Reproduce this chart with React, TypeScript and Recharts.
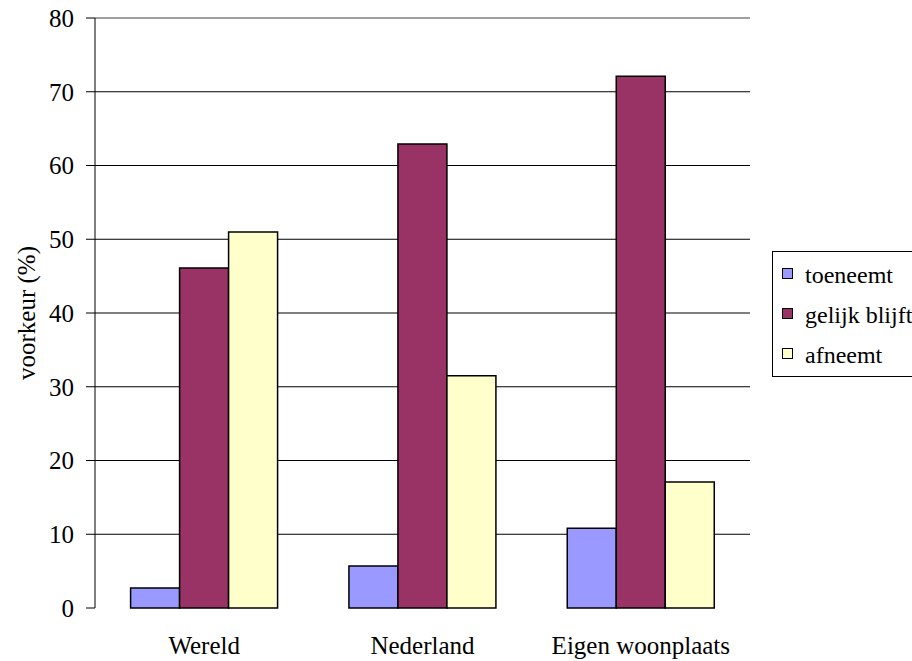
import React from "react";
import {
  BarChart,
  Bar,
  XAxis,
  YAxis,
  CartesianGrid,
  Legend,
  ReferenceLine,
} from "recharts";

const categories = ["Wereld", "Nederland", "Eigen woonplaats"];
const seriesNames = ["toeneemt", "gelijk blijft", "afneemt"];
const toeneemt = [2.7, 5.7, 10.8];
const gelijkBlijft = [46.1, 62.9, 72.1];
const afneemt = [51.0, 31.5, 17.1];
const yTicks = [0, 10, 20, 30, 40, 50, 60, 70, 80];
const edgeTicks = [0, 1, 2, 3];

const data = categories.map((name, i) => ({
  name,
  toeneemt: toeneemt[i],
  gelijk: gelijkBlijft[i],
  afneemt: afneemt[i],
}));

const FONT = "Liberation Serif, DejaVu Serif, Noto Serif, Times New Roman, serif";

const YLabel = (props: any) => {
  const vb = props.viewBox || {};
  const x = vb.x + 26;
  const y = vb.y + vb.height / 2;
  return (
    <text
      x={x}
      y={y}
      transform={`rotate(-90, ${x}, ${y})`}
      textAnchor="middle"
      dominantBaseline="central"
      style={{ fontFamily: FONT }}
      fontSize={25}
      fill="#000"
    >
      voorkeur (%)
    </text>
  );
};

const LegendContent = (props: any) => {
  const payload = [...(props.payload || [])].sort(
    (a: any, b: any) => seriesNames.indexOf(a.value) - seriesNames.indexOf(b.value)
  );
  return (
    <div
      style={{
        position: "absolute",
        left: 22,
        top: 251,
        width: 150,
        height: 126,
        border: "1px solid #000",
        boxSizing: "border-box",
        paddingTop: 3,
        background: "#fff",
      }}
    >
      {payload.map((p: any) => (
        <div
          key={p.value}
          style={{
            display: "flex",
            alignItems: "center",
            height: 40,
            fontFamily: FONT,
            fontSize: 24,
            color: "#000",
            whiteSpace: "nowrap",
          }}
        >
          <span
            style={{
              display: "inline-block",
              width: 9,
              height: 9,
              marginLeft: 9,
              marginTop: -3,
              background: p.color,
              border: "1px solid #000",
            }}
          />
          <span style={{ marginLeft: 12 }}>{p.value}</span>
        </div>
      ))}
    </div>
  );
};

const tickStyle = { fontFamily: FONT, fontSize: 25, fill: "#000", style: { fontFamily: FONT } };

export default function App() {
  return (
    <div style={{ position: "absolute", left: 0, top: 0, background: "#fff", fontFamily: FONT }}>
      <BarChart
        width={912}
        height={661}
        data={data}
        margin={{ top: 18, right: 0, bottom: 0, left: 0 }}
        barCategoryGap="16.3%"
        barGap={0}
        style={{ fontFamily: FONT }}
      >
        <CartesianGrid
          vertical={false}
          stroke="#000"
          strokeWidth={1}
          horizontalValues={[10, 20, 30, 40, 50, 60, 70]}
        />
        <XAxis
          xAxisId="edges"
          type="number"
          domain={[0, 3]}
          ticks={edgeTicks}
          height={0}
          tick={false}
          tickSize={8}
          tickLine={{ stroke: "#000" }}
          axisLine={{ stroke: "#000" }}
          allowDataOverflow
        />
        <XAxis
          xAxisId="cat"
          dataKey="name"
          height={53}
          axisLine={false}
          tickLine={false}
          tickSize={0}
          tickMargin={28}
          tick={tickStyle}
        />
        <YAxis
          domain={[0, 80]}
          ticks={yTicks}
          width={95}
          tickSize={9}
          tickMargin={12}
          axisLine={{ stroke: "#000" }}
          tickLine={{ stroke: "#000" }}
          tick={tickStyle}
          label={<YLabel />}
        />
        <ReferenceLine y={80} xAxisId="cat" stroke="#808080" strokeWidth={1.5} />
        <ReferenceLine x={3} xAxisId="edges" stroke="#808080" strokeWidth={1.5} />
        <Legend
          layout="vertical"
          align="right"
          verticalAlign="middle"
          content={<LegendContent />}
          wrapperStyle={{ left: 750, top: 0, width: 162, height: 661, overflow: "hidden" }}
        />
        <Bar
          xAxisId="cat"
          dataKey="toeneemt"
          name="toeneemt"
          fill="#9999FF"
          stroke="#000"
          strokeWidth={1.5}
          isAnimationActive={false}
        />
        <Bar
          xAxisId="cat"
          dataKey="gelijk"
          name="gelijk blijft"
          fill="#993366"
          stroke="#000"
          strokeWidth={1.5}
          isAnimationActive={false}
        />
        <Bar
          xAxisId="cat"
          dataKey="afneemt"
          name="afneemt"
          fill="#FFFFCC"
          stroke="#000"
          strokeWidth={1.5}
          isAnimationActive={false}
        />
      </BarChart>
    </div>
  );
}
